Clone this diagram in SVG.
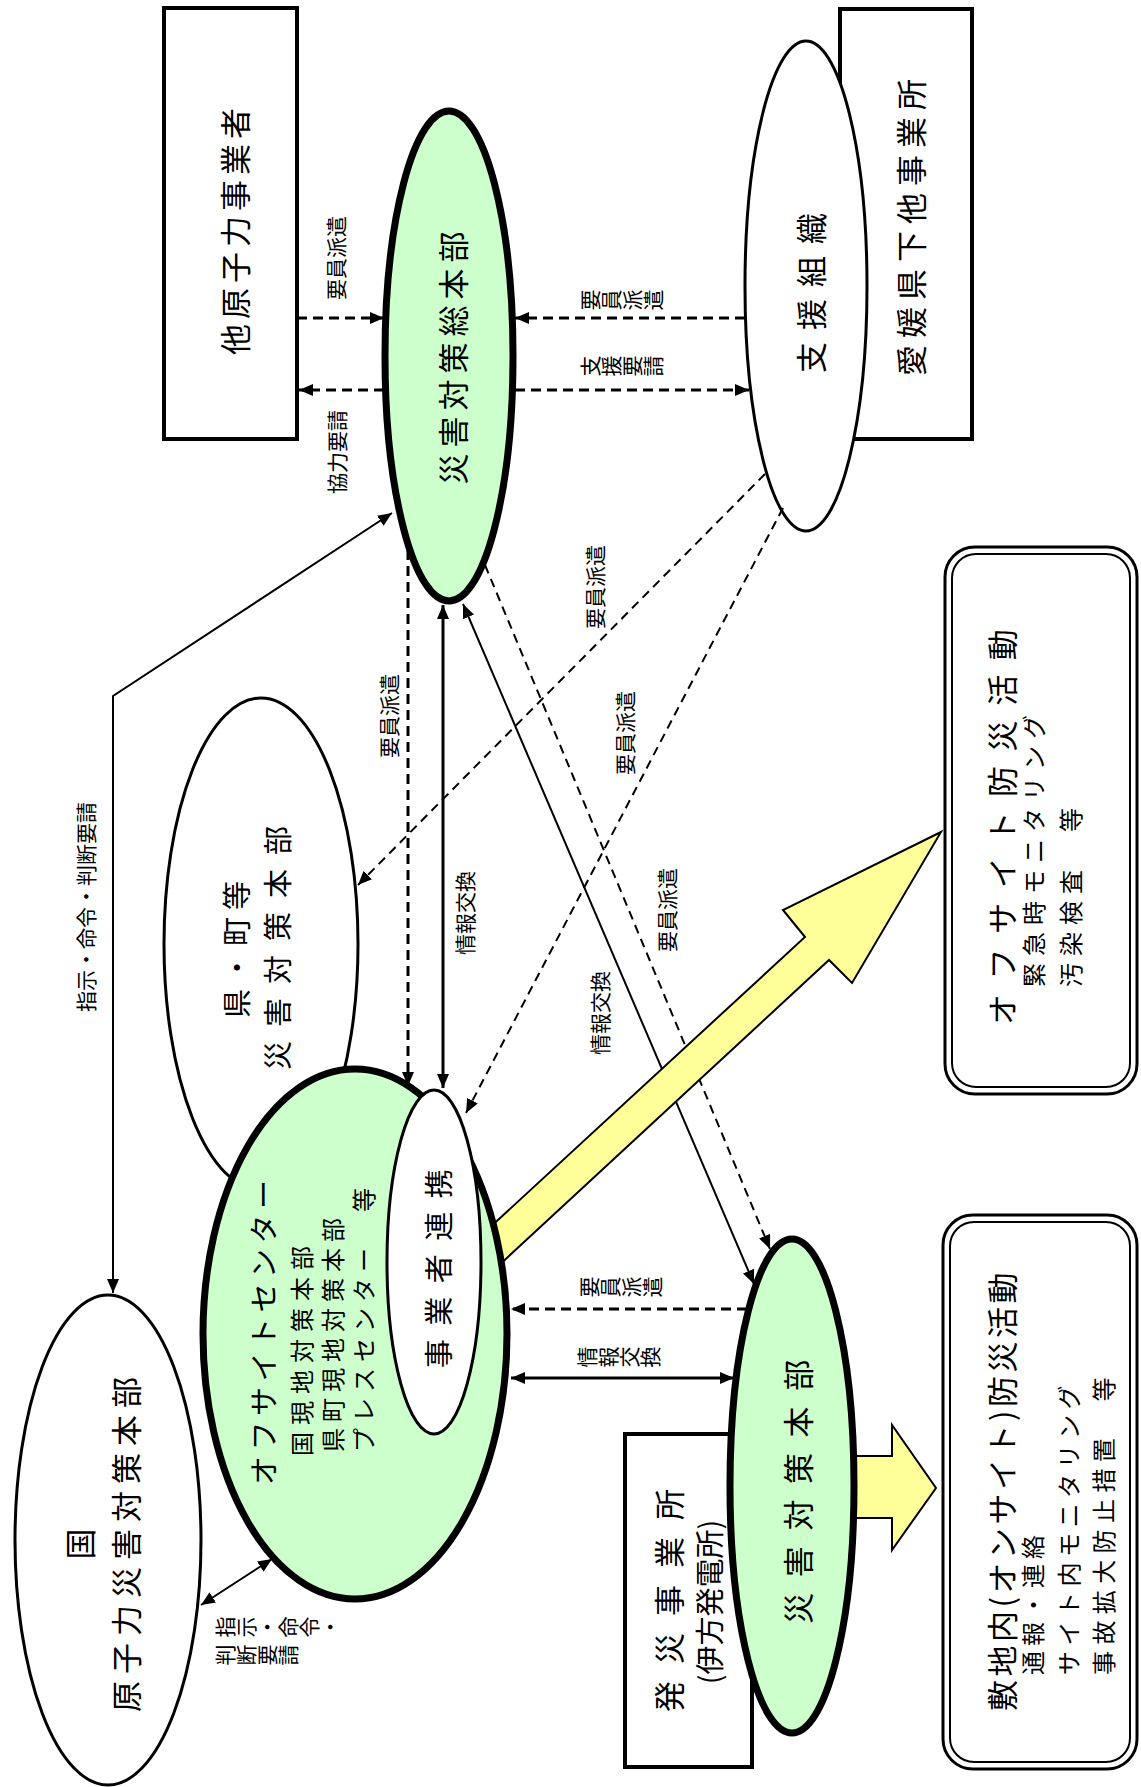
<svg xmlns="http://www.w3.org/2000/svg" width="1141" height="1787" viewBox="0 0 1141 1787">
<style>
text{font-family:"Noto Sans CJK JP","Noto Sans CJK SC",sans-serif;fill:#000;dominant-baseline:central}
.big{font-size:31px}
.mid{font-size:29px}
.sub{font-size:24px}
.lbl{font-size:21px}
.vt{writing-mode:vertical-rl}
.box{fill:#fff;stroke:#000;stroke-width:4}
.ell{fill:#fff;stroke:#000;stroke-width:3}
.gell{fill:#ccffcc;stroke:#000;stroke-width:7}
.rb{fill:none;stroke:#000}
.ln{fill:none;stroke:#000;stroke-width:2}
.ln3{fill:none;stroke:#000;stroke-width:3}
.d3{fill:none;stroke:#000;stroke-width:3;stroke-dasharray:10 6}
.d2{fill:none;stroke:#000;stroke-width:2;stroke-dasharray:9 6}
.ya{fill:#ffff99;stroke:#000;stroke-width:2;stroke-linejoin:miter}
</style>
<defs>
<marker id="ah" viewBox="0 0 14 12" refX="14" refY="6" markerWidth="14" markerHeight="12" markerUnits="userSpaceOnUse" orient="auto-start-reverse"><path d="M0,0 L14,6 L0,12 z" fill="#000"/></marker>
</defs>

<g id="node-ken">
<ellipse class="ell" cx="261" cy="944" rx="97" ry="246"/>
<text class="mid" text-anchor="middle" transform="translate(235,946) rotate(-90)" letter-spacing="7">県・町等</text>
<text class="mid" text-anchor="middle" transform="translate(276,941) rotate(-90)" letter-spacing="14">災害対策本部</text>
</g>

<g id="node-kuni">
<ellipse class="ell" cx="108" cy="1540" rx="93" ry="245"/>
<text class="big" text-anchor="middle" transform="translate(78,1544) rotate(-90)">国</text>
<text class="big" text-anchor="middle" transform="translate(124,1541) rotate(-90)" letter-spacing="7">原子力災害対策本部</text>
</g>

<g id="node-tagenshiryoku">
<rect class="box" x="164" y="8" width="133" height="431"/>
<text class="big" text-anchor="middle" transform="translate(233,229) rotate(-90)" letter-spacing="5">他原子力事業者</text>
</g>

<g id="node-ehime">
<rect class="box" x="840" y="9" width="132" height="430"/>
<text class="big" text-anchor="middle" transform="translate(909,224) rotate(-90)" letter-spacing="7">愛媛県下他事業所</text>
</g>

<g id="node-shien">
<ellipse class="ell" cx="806" cy="286" rx="61" ry="245"/>
<text class="big" text-anchor="middle" transform="translate(809,287) rotate(-90)" letter-spacing="12">支援組織</text>
</g>

<g id="node-hassai">
<rect class="box" x="625" y="1434" width="127" height="333"/>
<text class="big" text-anchor="middle" transform="translate(667,1592) rotate(-90)" letter-spacing="17">発災事業所</text>
<text class="mid" text-anchor="middle" transform="translate(708,1602) rotate(-90)">(伊方発電所)</text>
</g>

<g id="node-offsite-activity">
<rect class="rb" x="945" y="547" width="192" height="547" rx="30" stroke-width="3"/>
<rect class="rb" x="952" y="554" width="178" height="533" rx="24" stroke-width="2"/>
<text class="big" transform="translate(1000,1025) rotate(-90)" letter-spacing="14.6">オフサイト防災活動</text>
<text class="sub" transform="translate(1032,987) rotate(-90)" letter-spacing="7">緊急時モニタリング</text>
<text class="sub" transform="translate(1069,987) rotate(-90)" letter-spacing="7">汚染検査　等</text>
</g>

<g id="node-onsite-activity">
<rect class="rb" x="943" y="1215" width="194" height="554" rx="30" stroke-width="3"/>
<rect class="rb" x="950" y="1222" width="180" height="540" rx="24" stroke-width="2"/>
<text class="big" transform="translate(1000,1711) rotate(-90)" letter-spacing="3.5">敷地内(オンサイト)防災活動</text>
<text class="sub" transform="translate(1031,1675) rotate(-90)" letter-spacing="5">通報・連絡</text>
<text class="sub" transform="translate(1067,1675) rotate(-90)" letter-spacing="5.5">サイト内モニタリング</text>
<text class="sub" transform="translate(1102,1675) rotate(-90)" letter-spacing="6.4">事故拡大防止措置　等</text>
</g>

<g id="node-sohonbu">
<ellipse class="gell" cx="449" cy="356" rx="64" ry="245"/>
<text class="big" text-anchor="middle" transform="translate(451,355) rotate(-90)" letter-spacing="6">災害対策総本部</text>
</g>

<g id="connectors">
<line class="d3" x1="297" y1="318" x2="384" y2="318" marker-end="url(#ah)"/>
<line class="d3" x1="384" y1="390" x2="299" y2="390" marker-end="url(#ah)"/>
<line class="d3" x1="745" y1="318" x2="515" y2="318" marker-end="url(#ah)"/>
<line class="d3" x1="515" y1="390" x2="749" y2="390" marker-end="url(#ah)"/>
<polyline class="ln" points="392,513 113,696 113,1293" marker-start="url(#ah)" marker-end="url(#ah)"/>
<line class="ln" x1="201" y1="1605" x2="272" y2="1559" marker-start="url(#ah)" marker-end="url(#ah)"/>
<line class="d3" x1="408" y1="550" x2="408" y2="1086" marker-end="url(#ah)"/>
<line class="ln3" x1="443" y1="605" x2="443" y2="1088" marker-start="url(#ah)" marker-end="url(#ah)"/>
<line class="d2" x1="765" y1="474" x2="358" y2="885" marker-end="url(#ah)"/>
<line class="d2" x1="783" y1="508" x2="466" y2="1113" marker-end="url(#ah)"/>
<line class="ln" x1="463" y1="604" x2="754" y2="1284" marker-start="url(#ah)" marker-end="url(#ah)"/>
<line class="d2" x1="485" y1="565" x2="770" y2="1249" marker-end="url(#ah)"/>
<line class="d3" x1="747" y1="1309" x2="511" y2="1309" marker-end="url(#ah)"/>
<line class="ln3" x1="734" y1="1378" x2="511" y2="1378" marker-start="url(#ah)" marker-end="url(#ah)"/>
<text class="lbl" text-anchor="middle" transform="translate(335,258) rotate(-90)">要員派遣</text>
<text class="lbl" text-anchor="middle" transform="translate(336,452) rotate(-90)">協力要請</text>
<text class="lbl vt" text-anchor="middle" transform="translate(622,300) rotate(-90)">要員派遣</text>
<text class="lbl vt" text-anchor="middle" transform="translate(622,366) rotate(-90)">支援要請</text>
<text class="lbl" text-anchor="middle" transform="translate(85,907) rotate(-90)">指示・命令・判断要請</text>
<text class="lbl" text-anchor="middle" transform="translate(388,716) rotate(-90)">要員派遣</text>
<text class="lbl" text-anchor="middle" transform="translate(464,913) rotate(-90)">情報交換</text>
<text class="lbl" text-anchor="middle" transform="translate(594,587) rotate(-90)">要員派遣</text>
<text class="lbl" text-anchor="middle" transform="translate(624,733) rotate(-90)">要員派遣</text>
<text class="lbl" text-anchor="middle" transform="translate(666,910) rotate(-90)">要員派遣</text>
<text class="lbl" text-anchor="middle" transform="translate(599,1013) rotate(-90)">情報交換</text>
<text class="lbl vt" text-anchor="middle" transform="translate(621,1287) rotate(-90)">要員派遣</text>
<text class="lbl vt" text-anchor="middle" transform="translate(619,1357) rotate(-90)">情報交換</text>
<text class="lbl vt" transform="translate(215,1627) rotate(-90)">指示・命令・</text>
<text class="lbl vt" transform="translate(215,1655) rotate(-90)">判断要請</text>
</g>

<g id="arrow-offsite">
<polygon class="ya" points="473,1243 805,937 783,910 941,832 852,983 829,960 483,1280"/>
</g>
<g id="arrow-onsite">
<polygon class="ya" points="820,1456 892,1456 892,1425 936,1488 892,1550 892,1518 820,1518"/>
</g>

<g id="node-offsite-center">
<ellipse class="gell" cx="355" cy="1334" rx="152" ry="265"/>
<text class="mid" transform="translate(262,1485) rotate(-90)" letter-spacing="5.5">オフサイトセンター</text>
<text class="sub" transform="translate(300,1456) rotate(-90)" letter-spacing="7">国現地対策本部</text>
<text class="sub" transform="translate(331,1452) rotate(-90)" letter-spacing="6">県町現地対策本部</text>
<text class="sub" transform="translate(362,1452) rotate(-90)" letter-spacing="6">プレスセンター　等</text>
</g>

<g id="node-jigyosha-renkei">
<ellipse class="ell" cx="434" cy="1262" rx="47" ry="172"/>
<text class="mid" text-anchor="middle" transform="translate(437,1262) rotate(-90)" letter-spacing="13.5">事業者連携</text>
</g>

<g id="node-onsite-hq">
<ellipse class="gell" cx="792" cy="1486" rx="62" ry="247"/>
<text class="big" text-anchor="middle" transform="translate(796,1484) rotate(-90)" letter-spacing="15.6">災害対策本部</text>
</g>
</svg>
